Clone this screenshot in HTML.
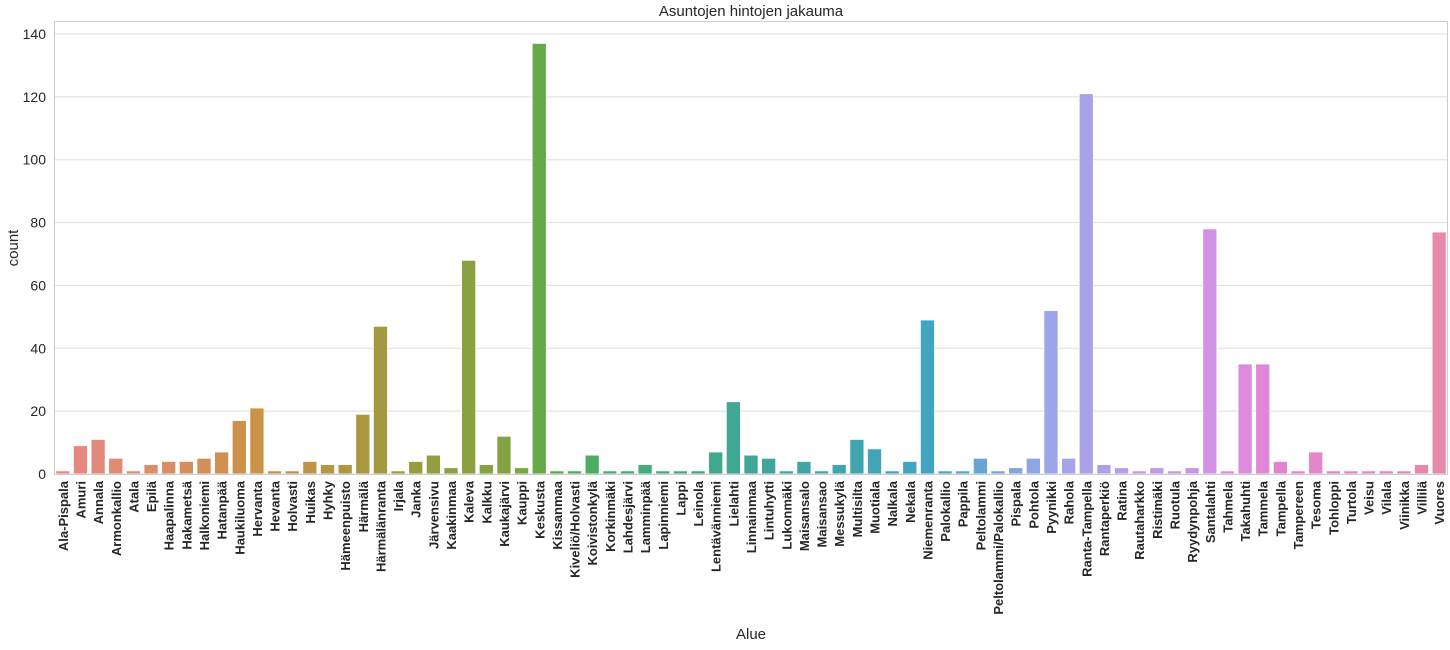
<!DOCTYPE html>
<html><head><meta charset="utf-8"><style>
body{margin:0;background:#fff;font-family:"Liberation Sans",sans-serif;}
svg text{font-family:"Liberation Sans",sans-serif;}
</style></head><body>
<svg id="chart" width="1450" height="645" xmlns="http://www.w3.org/2000/svg">
<text x="751" y="16" text-anchor="middle" font-size="15" fill="#262626">Asuntojen hintojen jakauma</text>
<g id="grid"></g>
<g id="bars"></g>
<g id="yticks"></g>
<g id="xticks"></g>
<rect x="54.5" y="21.5" width="1393" height="453" fill="none" stroke="#cccccc" stroke-width="1"/>
<text transform="translate(18,248) rotate(-90)" text-anchor="middle" font-size="15" fill="#262626">count</text>
<text x="751" y="639" text-anchor="middle" font-size="15" fill="#262626">Alue</text>
</svg>
<script>
const categories=["Ala-Pispala","Amuri","Annala","Armonkallio","Atala","Epilä","Haapalinna","Hakametsä","Halkoniemi","Hatanpää","Haukiluoma","Hervanta","Hevanta","Holvasti","Huikas","Hyhky","Hämeenpuisto","Härmälä","Härmälänranta","Irjala","Janka","Järvensivu","Kaakinmaa","Kaleva","Kalkku","Kaukajärvi","Kauppi","Keskusta","Kissanmaa","Kiveliö/Holvasti","Koivistonkylä","Korkinmäki","Lahdesjärvi","Lamminpää","Lapinniemi","Lappi","Leinola","Lentävänniemi","Lielahti","Linnainmaa","Lintuhytti","Lukonmäki","Maisansalo","Maisansao","Messukylä","Multisilta","Muotiala","Nalkala","Nekala","Niemenranta","Palokallio","Pappila","Peltolammi","Peltolammi/Palokallio","Pispala","Pohtola","Pyynikki","Rahola","Ranta-Tampella","Rantaperkiö","Ratina","Rautaharkko","Ristimäki","Ruotula","Ryydynpohja","Santalahti","Tahmela","Takahuhti","Tammela","Tampella","Tampereen","Tesoma","Tohloppi","Turtola","Veisu","Vilala","Viinikka","Villilä","Vuores"];
const counts=[1,9,11,5,1,3,4,4,5,7,17,21,1,1,4,3,3,19,47,1,4,6,2,68,3,12,2,137,1,1,6,1,1,3,1,1,1,7,23,6,5,1,4,1,3,11,8,1,4,49,1,1,5,1,2,5,52,5,121,3,2,1,2,1,2,78,1,35,35,4,1,7,1,1,1,1,1,3,77];
const yTicks=[0,20,40,60,80,100,120,140];
const NS="http://www.w3.org/2000/svg";
const x0=54,x1=1448,yb=474,yt=34,ymax=140;
const step=(x1-x0)/categories.length;
const xc=i=>x0+step*(i+0.5);
const y=v=>yb-(yb-yt)*v/ymax;
const anchors=[[0,[232,136,134]],[0.14,[204,146,70]],[0.24,[160,154,64]],[0.33,[126,164,66]],[0.36,[84,172,78]],[0.42,[66,172,124]],[0.5,[64,166,150]],[0.63,[66,164,196]],[0.72,[158,166,236]],[0.84,[214,146,228]],[0.88,[226,132,214]],[1,[230,138,168]]];
function col(t){for(let k=0;k<anchors.length-1;k++){const a=anchors[k],b=anchors[k+1];if(t<=b[0]){const f=(t-a[0])/(b[0]-a[0]);return `rgb(${a[1].map((c,j)=>Math.round(c+(b[1][j]-c)*f)).join(',')})`;}}return 'rgb(230,138,168)';}
function mk(tag,attrs,parent,txt){const e=document.createElementNS(NS,tag);for(const k in attrs)e.setAttribute(k,attrs[k]);if(txt!==undefined)e.textContent=txt;parent.appendChild(e);return e;}
const grid=document.getElementById('grid'),yg=document.getElementById('yticks'),bars=document.getElementById('bars'),xg=document.getElementById('xticks');
yTicks.forEach(v=>{
 const l=mk('line',{x1:x0,x2:x1,y1:y(v),y2:y(v),stroke:'#dedede','stroke-width':1},grid);
 
 
 const t=mk('text',{x:x0-8,y:y(v)+5,'text-anchor':'end','font-size':14,fill:'#262626'},yg,String(v));
 
 
});
categories.forEach((c,i)=>{
 const w=step*0.8;
 const r=mk('rect',{x:xc(i)-w/2,y:y(counts[i]),width:w,height:yb-y(counts[i]),fill:col(i/(categories.length-1)),stroke:'#fff','stroke-width':0.8},bars);
 
 
 const t=mk('text',{transform:`translate(${xc(i)+5},${yb+7}) rotate(-90)`,'text-anchor':'end','font-size':13,'font-weight':'bold',fill:'#262626',textLength:'',}, xg, c);
 t.removeAttribute('textLength');
 
 
});
</script>
</body></html>
